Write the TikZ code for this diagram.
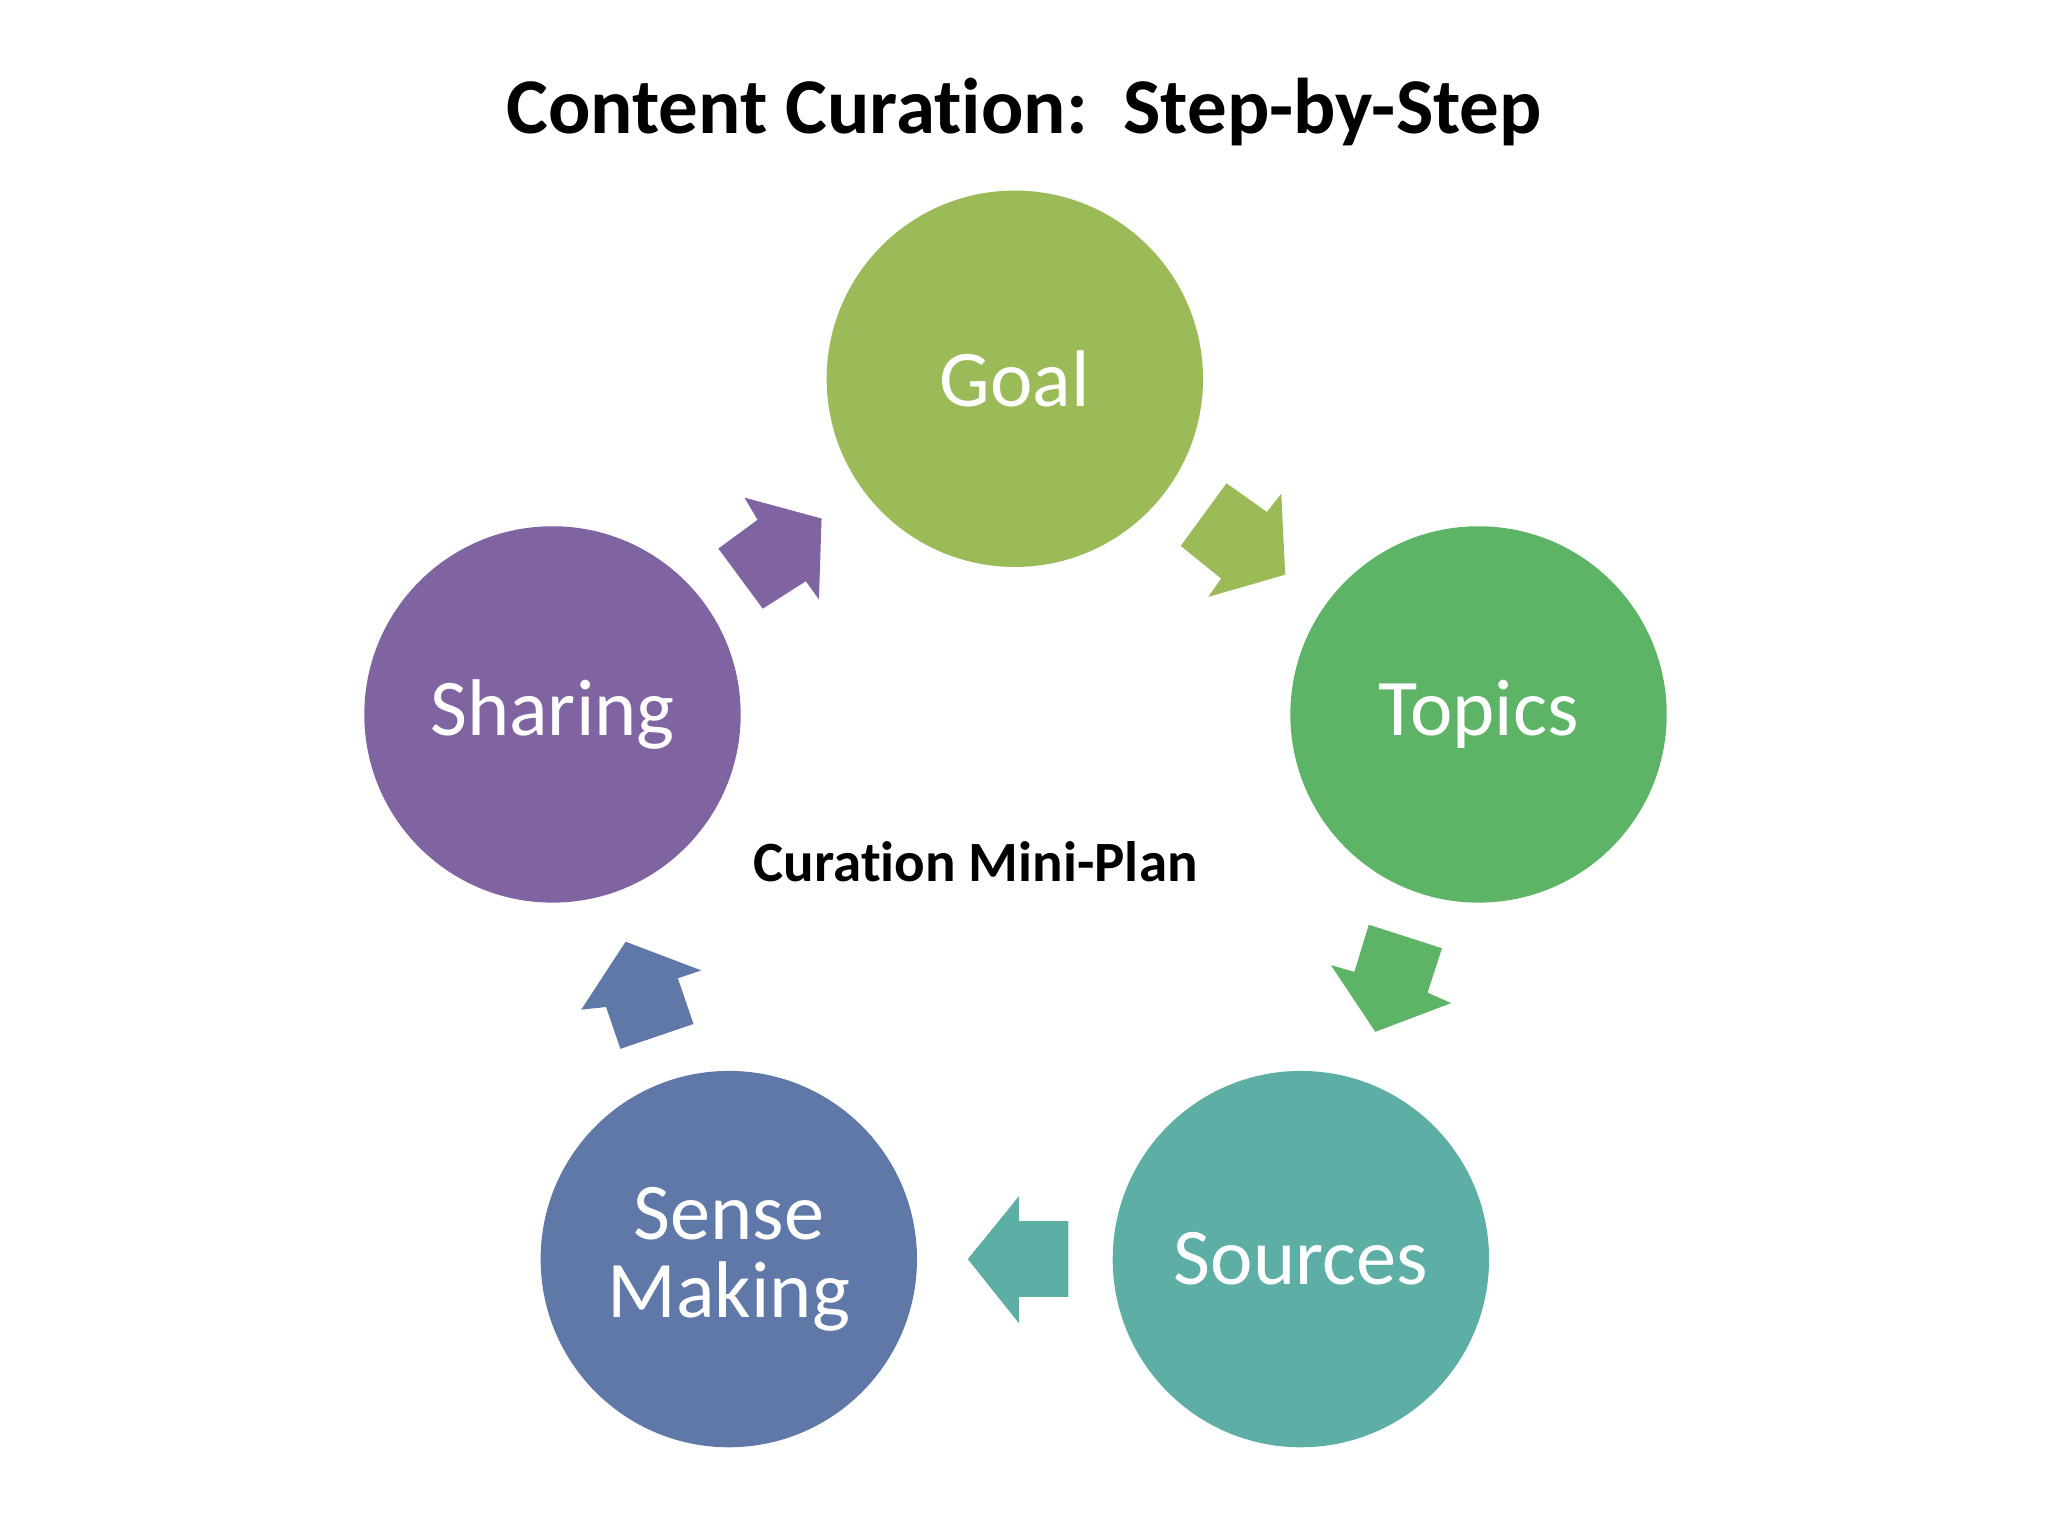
\documentclass[tikz,border=0pt]{standalone}
\usepackage{fontspec}
\setmainfont[Ligatures=NoCommon]{Carlito}
\begin{document}
\begin{tikzpicture}[x=0.01cm,y=-0.01cm,
  stepc/.style={circle,minimum size=2.88cm,inner sep=0pt,text=white,font=\fontsize{17.5}{19}\selectfont,align=center}]
\definecolor{cgoal}{HTML}{9BBB59}
\definecolor{ctop}{HTML}{5DB466}
\definecolor{csrc}{HTML}{5DAFA6}
\definecolor{csense}{HTML}{6078A8}
\definecolor{cshare}{HTML}{8064A2}
\useasboundingbox (0,0) rectangle (1568,1176);
\node[font=\bfseries\fontsize{17.2}{19}\selectfont] (title) at (784,86) {Content Curation:\ \ Step-by-Step};
\node[stepc,fill=cgoal] (goal) at (777,290) {Goal};
\node[stepc,fill=ctop] (topics) at (1132,547) {Topics};
\node[stepc,fill=csrc] (sources) at (996,964) {Sources};
\node[stepc,fill=csense] (sense) at (558,964) {Sense\\[-2pt]Making};
\node[stepc,fill=cshare] (sharing) at (423,547) {Sharing};
\node[font=\bfseries\fontsize{12.4}{14}\selectfont] (plan) at (747,660) {Curation Mini-Plan};
\fill[cgoal] (939,370)--(970,392)--(981,378)--(984,440)--(925,457)--(935,443)--(904,418)--cycle;
\fill[ctop] (1048,708)--(1104,726)--(1093,760)--(1111,768)--(1053,790)--(1019,739)--(1037,744)--cycle;
\fill[csrc] (818,935)--(780,935)--(780,916)--(741,964)--(780,1013)--(780,993)--(818,993)--cycle;
\fill[csense] (531,784)--(475,803)--(464,771)--(445,773)--(479,721)--(537,743)--(519,749)--cycle;
\fill[cshare] (584,466)--(550,420)--(580,398)--(570,381)--(629,397)--(627,459)--(617,445)--cycle;
\end{tikzpicture}
\end{document}
